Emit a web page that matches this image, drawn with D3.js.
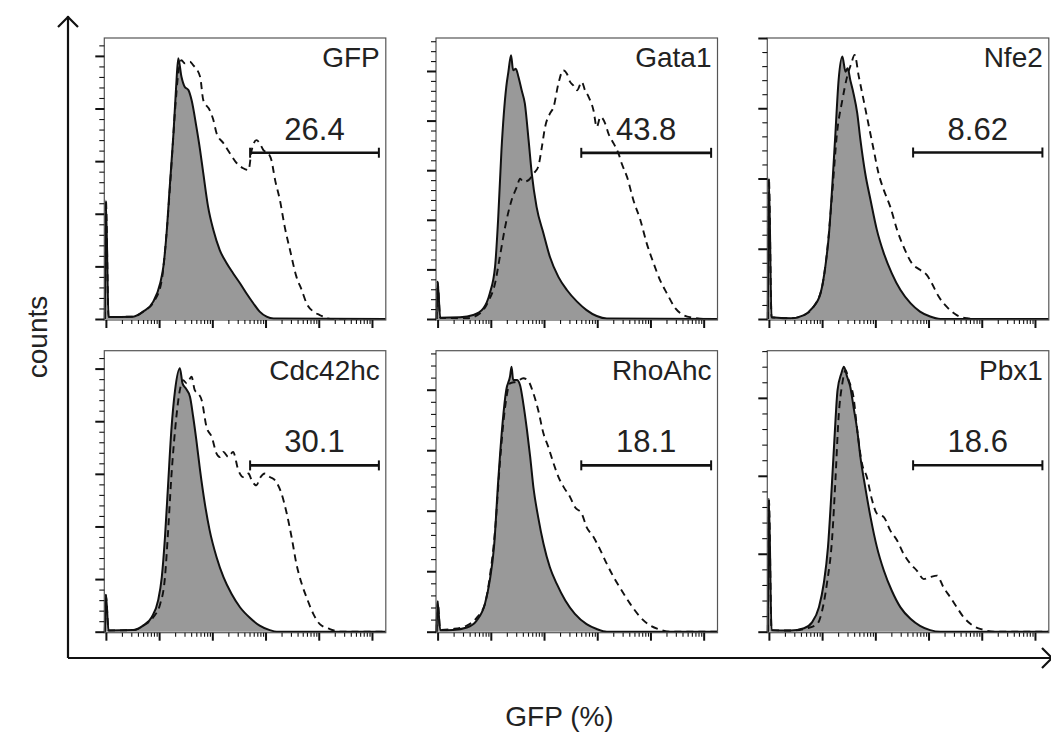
<!DOCTYPE html>
<html>
<head>
<meta charset="utf-8">
<script src="https://cdn.jsdelivr.net/npm/d3@7"></script>
<style>
  html, body { margin: 0; background: #fff; }
  svg { display: block; }
</style>
</head>
<body>
<svg id="chart" width="1051" height="733"></svg>
<script>
// ---- data -------------------------------------------------------------
// Transduced construct shown in each panel (row-major order)
const markers = ["GFP", "Gata1", "Nfe2", "Cdc42hc", "RhoAhc", "Pbx1"];

// Percentage of GFP+ events inside the gate
const gatePercent = ["26.4", "43.8", "8.62", "30.1", "18.1", "18.6"];

// Gate limits on the fluorescence axis (log10 intensity) and the count level it is drawn at
const gateStart = [2.71, 2.70, 2.71, 2.71, 2.70, 2.71];
const gateEnd   = [5.13, 5.14, 5.14, 5.13, 5.14, 5.14];
const gateLevel = [63.2, 67.0, 47.4, 63.2, 55.0, 42.7];

// Top of each panel's count axis
const countMax = [106.8, 113.3, 80.0, 106.8, 92.9, 72.1];

// Fluorescence axis extent (log10 intensity) and tick spacing on the count axis
const logRange = [-0.03, 5.26];
const countMajorStep = 20;
const countMinorStep = 4;

// Control histograms (filled): [log10 intensity, counts]
const controlHist = [
  [[-0.02,0],[0,45],[0.05,0.8],[0.51,0.9],[0.70,2.8],[0.89,6.6],[1.02,13.6],[1.08,19.9],[1.14,32.6],[1.20,50.3],[1.27,70.6],[1.32,88.3],[1.36,99.1],[1.42,92.1],[1.48,88.3],[1.55,87.0],[1.61,83.2],[1.70,73.1],[1.77,64.2],[1.83,55.4],[1.92,42.7],[2.02,33.8],[2.14,26.2],[2.27,21.2],[2.39,17.4],[2.52,13.6],[2.64,9.8],[2.77,6.0],[2.89,2.8],[3.02,0.9],[3.15,0.2],[5.26,0]],
  [[-0.02,0],[0,15],[0.05,0.5],[0.42,0.7],[0.67,1.6],[0.86,4.3],[0.98,10.3],[1.08,21.1],[1.14,41.2],[1.20,68.0],[1.29,93.5],[1.33,99.6],[1.38,106.3],[1.42,100.3],[1.47,100.9],[1.52,97.6],[1.58,92.2],[1.64,86.8],[1.71,72.1],[1.77,58.6],[1.86,45.2],[1.99,34.5],[2.11,25.1],[2.27,17.0],[2.43,11.7],[2.62,7.0],[2.80,3.6],[2.99,1.2],[3.18,0.2],[5.26,0]],
  [[-0.02,0],[0,40],[0.05,0.5],[0.41,0.2],[0.66,1.1],[0.81,3.0],[0.97,7.3],[1.06,14.9],[1.13,24.4],[1.19,37.7],[1.25,52.9],[1.31,68.0],[1.38,74.7],[1.44,70.4],[1.48,71.4],[1.53,68.0],[1.59,64.2],[1.66,58.6],[1.72,51.0],[1.81,41.5],[1.91,33.9],[2.03,25.3],[2.16,18.7],[2.31,13.0],[2.47,8.3],[2.66,4.5],[2.84,2.1],[3.03,0.7],[3.22,0],[5.26,0]],
  [[-0.02,0],[0,14],[0.05,0.5],[0.51,0.6],[0.70,2.3],[0.86,5.5],[0.98,11.8],[1.05,20.7],[1.11,35.9],[1.17,56.3],[1.23,76.6],[1.30,91.8],[1.39,100.1],[1.44,94.4],[1.50,92.5],[1.58,89.3],[1.64,81.7],[1.70,72.8],[1.77,61.3],[1.86,48.6],[1.95,38.5],[2.08,28.3],[2.21,20.7],[2.36,14.4],[2.52,9.3],[2.71,5.2],[2.89,2.3],[3.08,0.6],[3.21,0],[5.26,0]],
  [[-0.02,0],[0,10],[0.05,0.5],[0.29,0.6],[0.55,1.4],[0.73,3.6],[0.89,9.2],[0.98,16.9],[1.06,28.0],[1.14,50.1],[1.22,68.8],[1.29,79.9],[1.36,84.3],[1.39,87.6],[1.42,83.2],[1.49,83.2],[1.55,81.5],[1.61,75.5],[1.68,66.6],[1.74,57.8],[1.80,47.8],[1.89,37.9],[1.99,29.1],[2.11,21.3],[2.24,15.8],[2.40,10.3],[2.58,5.9],[2.80,2.5],[2.99,0.9],[3.18,0],[5.26,0]],
  [[-0.02,0],[0,34],[0.05,0.4],[0.41,0.3],[0.66,0.9],[0.81,2.4],[0.94,6.3],[1.03,12.3],[1.11,21.7],[1.17,34.5],[1.23,49.1],[1.29,62.0],[1.36,66.2],[1.41,68.0],[1.47,65.4],[1.53,62.8],[1.59,57.7],[1.66,51.7],[1.72,44.8],[1.81,37.1],[1.91,29.4],[2.03,21.7],[2.16,15.7],[2.31,10.5],[2.47,6.3],[2.66,3.3],[2.84,1.5],[3.03,0.4],[3.22,0],[5.26,0]]
];

// Transduced-cell histograms (dashed): [log10 intensity, counts]
const sampleHist = [
  [[-0.02,0],[0,45],[0.05,0.8],[0.51,0.9],[0.70,2.8],[0.92,7.2],[1.05,14.8],[1.14,32.6],[1.23,57.9],[1.30,79.4],[1.36,93.4],[1.42,98.4],[1.48,97.2],[1.58,97.8],[1.64,96.5],[1.77,92.1],[1.83,83.2],[1.95,79.4],[2.02,75.6],[2.08,70.6],[2.21,66.8],[2.33,63.0],[2.46,59.2],[2.58,57.3],[2.68,56.6],[2.74,64.2],[2.83,68.0],[2.89,66.8],[2.96,64.2],[3.05,63.0],[3.11,60.4],[3.18,52.8],[3.27,45.2],[3.36,35.1],[3.46,26.2],[3.58,16.1],[3.68,11.0],[3.77,6.0],[3.90,2.8],[4.02,1.5],[4.15,0.3],[4.27,0],[5.26,0]],
  [[-0.02,0],[0,15],[0.05,0.5],[0.55,0.3],[0.80,2.3],[0.95,7.0],[1.08,14.4],[1.17,25.1],[1.27,37.2],[1.39,47.9],[1.49,53.3],[1.55,56.6],[1.61,55.3],[1.71,56.0],[1.80,58.6],[1.89,61.3],[1.96,69.4],[2.02,77.4],[2.11,82.8],[2.18,85.5],[2.27,94.9],[2.36,100.3],[2.43,98.9],[2.49,95.6],[2.55,94.2],[2.62,92.2],[2.71,95.6],[2.77,92.2],[2.84,89.5],[2.93,84.1],[2.99,77.4],[3.06,81.5],[3.15,78.8],[3.21,74.8],[3.31,70.7],[3.40,66.7],[3.46,62.7],[3.56,57.3],[3.68,47.9],[3.81,39.9],[3.93,30.5],[4.06,22.4],[4.18,15.7],[4.31,10.3],[4.47,4.3],[4.62,1.6],[4.81,0.5],[5.0,0],[5.26,0]],
  [[-0.02,0],[0,40],[0.05,0.5],[0.41,0.2],[0.66,1.1],[0.84,3.5],[1.0,9.2],[1.09,18.7],[1.19,35.8],[1.28,52.9],[1.38,62.3],[1.47,69.0],[1.55,72.8],[1.61,75.2],[1.69,69.0],[1.78,62.3],[1.88,54.8],[1.97,48.1],[2.06,41.5],[2.16,36.7],[2.28,32.0],[2.41,25.3],[2.53,20.6],[2.69,15.8],[2.84,14.0],[2.97,12.5],[3.06,10.2],[3.19,6.4],[3.34,3.5],[3.53,1.1],[3.72,0.2],[3.84,0],[5.26,0]],
  [[-0.02,0],[0,14],[0.05,0.5],[0.51,0.6],[0.70,2.3],[0.89,5.5],[1.02,10.5],[1.11,20.7],[1.17,38.5],[1.23,58.8],[1.30,76.6],[1.39,91.8],[1.45,95.6],[1.52,94.4],[1.61,96.9],[1.67,91.8],[1.73,90.6],[1.80,88.0],[1.89,77.9],[1.99,74.0],[2.08,67.7],[2.14,66.4],[2.21,68.3],[2.30,66.4],[2.39,68.3],[2.49,61.3],[2.58,58.8],[2.68,60.1],[2.74,57.5],[2.83,55.6],[2.89,58.2],[2.99,60.1],[3.08,58.8],[3.18,57.5],[3.30,52.5],[3.40,44.8],[3.49,35.9],[3.58,25.8],[3.68,18.2],[3.77,13.1],[3.90,6.7],[4.02,2.9],[4.21,1.0],[4.40,0],[5.26,0]],
  [[-0.02,0],[0,10],[0.05,0.6],[0.29,0.9],[0.55,2.0],[0.73,4.5],[0.89,9.2],[0.98,18.0],[1.08,33.5],[1.17,55.6],[1.27,74.4],[1.36,82.1],[1.49,82.7],[1.61,83.8],[1.71,82.7],[1.80,78.8],[1.89,73.3],[1.99,65.5],[2.08,61.1],[2.18,55.6],[2.27,51.2],[2.37,47.8],[2.49,44.5],[2.58,41.2],[2.71,39.0],[2.80,34.6],[2.93,31.3],[3.06,26.9],[3.18,22.4],[3.31,18.0],[3.46,13.6],[3.62,9.2],[3.81,4.8],[4.00,2.0],[4.18,0.7],[4.37,0],[5.26,0]],
  [[-0.02,0],[0,34],[0.05,0.4],[0.41,0.3],[0.72,0.9],[0.91,2.0],[1.0,5.4],[1.09,12.3],[1.19,24.3],[1.25,38.8],[1.31,55.1],[1.38,63.7],[1.44,67.1],[1.50,64.5],[1.59,60.2],[1.66,51.7],[1.75,43.1],[1.84,39.7],[1.94,33.7],[2.03,30.3],[2.16,29.4],[2.28,26.0],[2.41,23.4],[2.53,20.0],[2.66,17.4],[2.78,15.7],[2.91,13.5],[3.03,14.0],[3.16,14.4],[3.28,11.4],[3.41,8.8],[3.53,6.3],[3.66,3.7],[3.84,1.5],[4.03,0.5],[4.22,0],[5.26,0]]
];

// ---- layout -----------------------------------------------------------
const FONT = "'Liberation Sans', Arial, Helvetica, sans-serif";
const svg = d3.select("#chart");
const panelW = 281.5, panelH = 281;
const colX = [104.3, 436, 767.3];
const rowY = [38, 350.7];
const ink = "#111";

// Shared outer axes with open arrowheads
const axisG = svg.append("g").attr("fill", "none").attr("stroke", ink)
  .attr("stroke-width", 2.2).attr("stroke-linecap", "butt");
const ox = 68, oy = 658, topY = 16, rightX = 1051;
axisG.append("path").attr("d", `M${ox},${oy}V${topY}`);
axisG.append("path").attr("d", `M${ox},${oy}H${rightX}`);
axisG.append("path").attr("stroke-linejoin", "miter")
  .attr("d", `M${ox - 10},${topY + 11}L${ox},${topY + 1}L${ox + 10},${topY + 11}`);
axisG.append("path").attr("stroke-linejoin", "miter")
  .attr("d", `M${rightX - 9},${oy - 10}L${rightX + 1},${oy}L${rightX - 9},${oy + 10}`);

svg.append("text")
  .attr("transform", `translate(47,${(topY + oy) / 2}) rotate(-90)`)
  .attr("text-anchor", "middle")
  .attr("font-family", FONT).attr("font-size", 28).attr("fill", "#222")
  .text("counts");

svg.append("text")
  .attr("x", (ox + rightX) / 2).attr("y", 726)
  .attr("text-anchor", "middle")
  .attr("font-family", FONT).attr("font-size", 28).attr("fill", "#222")
  .text("GFP (%)");

// ---- panels -----------------------------------------------------------
const xMajor = d3.range(0, 6).map(e => 10 ** e);
const xMinor = [];
for (let e = 0; e <= 5; e++) for (let k = 2; k <= 9; k++) {
  const v = k * 10 ** e;
  if (Math.log10(v) <= logRange[1]) xMinor.push(v);
}

markers.forEach((name, i) => {
  const left = colX[i % 3], top = rowY[Math.floor(i / 3)];
  const g = svg.append("g").attr("transform", `translate(${left},${top})`);

  const x = d3.scaleLog().domain([10 ** logRange[0], 10 ** logRange[1]]).range([0, panelW]);
  const y = d3.scaleLinear().domain([0, countMax[i]]).range([panelH, 0]);

  const area = d3.area()
    .x(d => x(10 ** d[0])).y0(panelH).y1(d => y(d[1]))
    .curve(d3.curveMonotoneX);
  const line = d3.line()
    .x(d => x(10 ** d[0])).y(d => y(d[1]))
    .curve(d3.curveMonotoneX);

  g.append("path").datum(controlHist[i])
    .attr("d", area).attr("fill", "#999999");
  g.append("path").datum(controlHist[i])
    .attr("d", line).attr("fill", "none").attr("stroke", ink)
    .attr("stroke-width", 2).attr("stroke-linejoin", "round");
  g.append("path").datum(sampleHist[i])
    .attr("d", line).attr("fill", "none").attr("stroke", ink)
    .attr("stroke-width", 1.9).attr("stroke-dasharray", "7,5");

  // frame
  g.append("rect").attr("x", 0).attr("y", 0)
    .attr("width", panelW).attr("height", panelH + 1)
    .attr("fill", "none").attr("stroke", "#555").attr("stroke-width", 1.2);

  // count ticks (no labels)
  const yMajorTicks = d3.range(0, countMax[i] + 1e-6, countMajorStep);
  const yMinorTicks = d3.range(0, countMax[i] + 1e-6, countMinorStep)
    .filter(v => v % countMajorStep !== 0);
  const yMaj = g.append("g").call(d3.axisLeft(y).tickValues(yMajorTicks).tickSize(9).tickFormat(""));
  const yMin = g.append("g").call(d3.axisLeft(y).tickValues(yMinorTicks).tickSize(5).tickFormat(""));
  yMaj.selectAll("line").attr("stroke", ink).attr("stroke-width", 2);
  yMin.selectAll("line").attr("stroke", ink).attr("stroke-width", 1.1);

  // fluorescence ticks (log decades, no labels)
  const xMaj = g.append("g").attr("transform", `translate(0,${panelH + 1})`)
    .call(d3.axisBottom(x).tickValues(xMajor).tickSize(8).tickFormat(""));
  const xMin = g.append("g").attr("transform", `translate(0,${panelH + 1})`)
    .call(d3.axisBottom(x).tickValues(xMinor).tickSize(4).tickFormat(""));
  xMaj.selectAll("line").attr("stroke", ink).attr("stroke-width", 2);
  xMin.selectAll("line").attr("stroke", ink).attr("stroke-width", 1.1);
  [yMaj, yMin, xMaj, xMin].forEach(a => a.select(".domain").remove());

  // gate bar
  const gx0 = x(10 ** gateStart[i]), gx1 = x(10 ** gateEnd[i]), gy = y(gateLevel[i]);
  const gate = g.append("g").attr("stroke", ink).attr("stroke-width", 2.6);
  gate.append("line").attr("x1", gx0).attr("x2", gx1).attr("y1", gy).attr("y2", gy);
  gate.append("line").attr("x1", gx0).attr("x2", gx0).attr("y1", gy - 5).attr("y2", gy + 5).attr("stroke-width", 2);
  gate.append("line").attr("x1", gx1).attr("x2", gx1).attr("y1", gy - 5).attr("y2", gy + 5).attr("stroke-width", 2);

  g.append("text")
    .attr("x", (gx0 + gx1) / 2).attr("y", gy - 13)
    .attr("text-anchor", "middle")
    .attr("font-family", FONT).attr("font-size", 31).attr("fill", "#222")
    .text(gatePercent[i]);

  g.append("text")
    .attr("x", panelW - 6).attr("y", 29)
    .attr("text-anchor", "end")
    .attr("font-family", FONT).attr("font-size", 28).attr("fill", "#222")
    .text(name);
});
</script>
</body>
</html>
